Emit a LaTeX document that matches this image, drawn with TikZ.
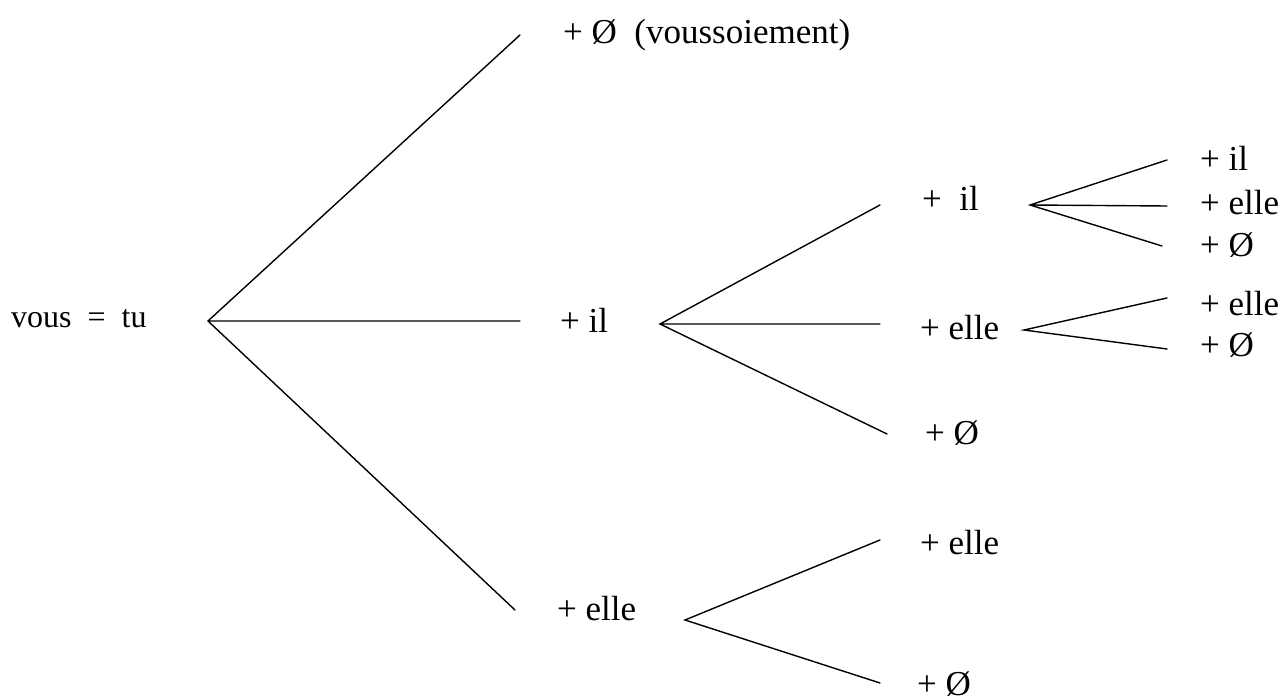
\documentclass[tikz,border=0pt]{standalone}
\usepackage{fontspec}
\setmainfont{Liberation Serif}
\begin{document}
\begin{tikzpicture}[x=1pt,y=-1pt,
  lbl/.style={anchor=base west,inner sep=0pt,font=\fontsize{35}{42}\selectfont},
  rootlbl/.style={anchor=base west,inner sep=0pt,font=\fontsize{32}{38}\selectfont},
  branch/.style={line width=1.4pt,line cap=round}]
\useasboundingbox (0,0) rectangle (1285,700);
% labels
\node[rootlbl] (root) at (11,328) {vous\ \ =\ \ tu};
\node[lbl] (vs) at (563,44) {+ Ø\ \ (voussoiement)};
\node[lbl] (il) at (560,333) {+ il};
\node[lbl] (el) at (557,620) {+ elle};
\node[lbl] (ilil) at (922,211) {+\ \ il};
\node[lbl] (ilel) at (920,340) {+ elle};
\node[lbl] (ilo) at (925,444) {+ Ø};
\node[lbl] (elel) at (920,554) {+ elle};
\node[lbl] (elo) at (917,695) {+ Ø};
\node[lbl] (ililil) at (1200,171) {+ il};
\node[lbl] (ililel) at (1200,215) {+ elle};
\node[lbl] (ililo) at (1200,257) {+ Ø};
\node[lbl] (ilelel) at (1200,316) {+ elle};
\node[lbl] (ilelo) at (1200,357) {+ Ø};
% branch points and ends
\coordinate (r0) at (208,321);
\coordinate (r1) at (520,35);
\coordinate (r2) at (520,321);
\coordinate (r3) at (515,610);
\coordinate (i0) at (660,324);
\coordinate (i1) at (880,205);
\coordinate (i2) at (880,324);
\coordinate (i3) at (887,434);
\coordinate (e0) at (685,620);
\coordinate (e1) at (880,540);
\coordinate (e2) at (880,683);
\coordinate (ii0) at (1030,205);
\coordinate (ii1) at (1167,160);
\coordinate (ii2) at (1167,206);
\coordinate (ii3) at (1162,246);
\coordinate (ie0) at (1024,330);
\coordinate (ie1) at (1167,298);
\coordinate (ie2) at (1167,349);
\draw[branch] (r1) -- (r0) -- (r3) (r0) -- (r2);
\draw[branch] (i1) -- (i0) -- (i3) (i0) -- (i2);
\draw[branch] (e1) -- (e0) -- (e2);
\draw[branch] (ii1) -- (ii0) -- (ii3) (ii0) -- (ii2);
\draw[branch] (ie1) -- (ie0) -- (ie2);
\end{tikzpicture}
\end{document}
